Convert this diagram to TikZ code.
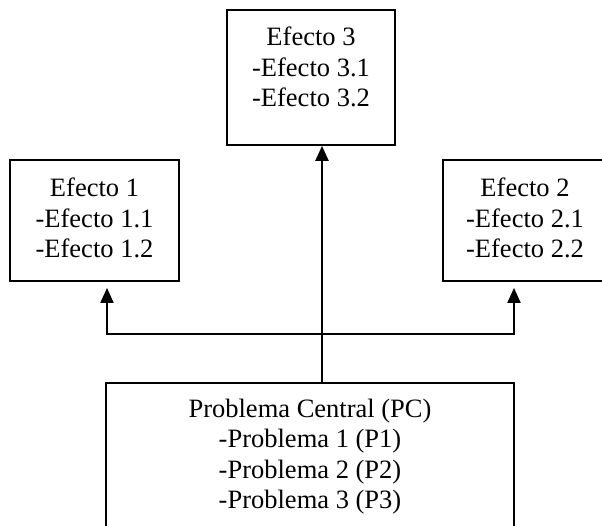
\documentclass[tikz,border=0pt]{standalone}
\usepackage{fontspec}
\setmainfont{Liberation Serif}
\usetikzlibrary{arrows.meta}
\begin{document}
\begin{tikzpicture}[x=1pt,y=-1pt,
  box/.style={draw=black, line width=1.8pt, rectangle, inner sep=0pt},
  txt/.style={align=center, inner sep=0pt, anchor=north, font=\fontsize{26.5}{30.3}\selectfont},
  conn/.style={line width=2.2pt, -{Triangle[width=13pt,length=15pt]}},
  ]
\useasboundingbox (0,0) rectangle (602,525);
\clip (0,0) rectangle (602,525);
% boxes
\node[box, minimum width=169pt, minimum height=121pt] (e1) at (94.5,220.5) {};
\node[box, minimum width=164pt, minimum height=121pt] (e2) at (525,220.5) {};
\node[box, minimum width=168pt, minimum height=135pt] (e3) at (311,77.5) {};
\node[box, minimum width=408pt, minimum height=157pt] (pc) at (310,461.5) {};
% texts
\node[txt] (e1t) at (94.5,178) {Efecto 1\\-Efecto 1.1\\-Efecto 1.2};
\node[txt] (e2t) at (525,178) {Efecto 2\\-Efecto 2.1\\-Efecto 2.2};
\node[txt] (e3t) at (311,27) {Efecto 3\\-Efecto 3.1\\-Efecto 3.2};
\node[txt] (pct) at (310,399) {Problema Central (PC)\\-Problema 1 (P1)\\-Problema 2 (P2)\\-Problema 3 (P3)};
% connectors
\coordinate (j) at (322,334);
\coordinate (jl) at (107,334);
\coordinate (jr) at (514,334);
\draw[conn, line width=2.4pt] (pc.north -| j) -- (e3.south -| j);
\draw[conn, line width=2pt, shorten >=6pt] (j) -| (e1.south -| jl);
\draw[conn, line width=2pt, shorten >=6pt] (j) -| (e2.south -| jr);
\end{tikzpicture}
\end{document}
